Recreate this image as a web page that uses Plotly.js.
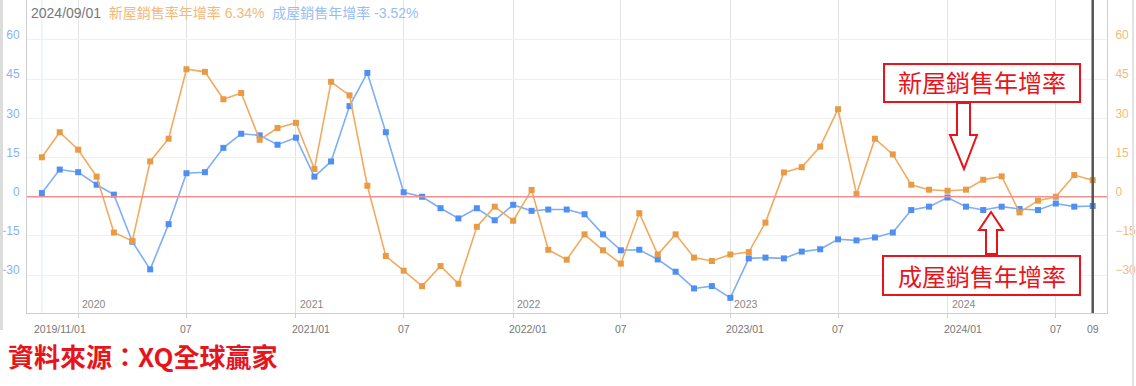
<!DOCTYPE html>
<html><head><meta charset="utf-8">
<script src="https://cdn.plot.ly/plotly-3.0.1.min.js"></script>
<style>html,body{margin:0;padding:0;background:#fff;}#chart{width:1136px;height:386px;}</style>
</head><body><div id="chart"></div>
<script>
const months = ["2019-11-01","2019-12-01",
"2020-01-01","2020-02-01","2020-03-01","2020-04-01","2020-05-01","2020-06-01","2020-07-01","2020-08-01","2020-09-01","2020-10-01","2020-11-01","2020-12-01",
"2021-01-01","2021-02-01","2021-03-01","2021-04-01","2021-05-01","2021-06-01","2021-07-01","2021-08-01","2021-09-01","2021-10-01","2021-11-01","2021-12-01",
"2022-01-01","2022-02-01","2022-03-01","2022-04-01","2022-05-01","2022-06-01","2022-07-01","2022-08-01","2022-09-01","2022-10-01","2022-11-01","2022-12-01",
"2023-01-01","2023-02-01","2023-03-01","2023-04-01","2023-05-01","2023-06-01","2023-07-01","2023-08-01","2023-09-01","2023-10-01","2023-11-01","2023-12-01",
"2024-01-01","2024-02-01","2024-03-01","2024-04-01","2024-05-01","2024-06-01","2024-07-01","2024-08-01","2024-09-01"];

const newHouse = [15.1, 24.7, 18.0, 7.7, -13.7, -16.9, 13.5, 22.2, 48.8, 47.8, 37.3, 39.7, 21.8, 26.3, 28.3, 10.6, 44.0, 38.8, 4.2, -22.7, -28.3,
 -34.2, -26.5, -33.3, -11.5, -3.8, -9.2, 2.6, -20.3, -24.1, -14.4, -20.5, -25.6, -6.3, -22.1, -14.4, -23.3, -24.6, -22.1, -21.2, -9.9,
 9.3, 11.3, 19.2, 33.5, 1.0, 22.2, 16.2, 4.6, 2.7, 2.3, 2.7, 6.5, 7.8, -6.0, -1.5, 0.0, 8.3, 6.34];

const existingHouse = [1.4, 10.4, 9.4, 4.6, 0.8, -17.2, -27.8, -10.5, 9.0, 9.4, 18.7, 24.1, 23.5, 19.9, 22.6, 7.7, 13.5, 34.7, 47.4, 24.7, 1.7,
 0.0, -4.4, -8.3, -4.4, -9.0, -3.1, -5.4, -4.9, -4.9, -6.7, -14.4, -20.5, -20.3, -24.0, -28.7, -35.1, -34.2, -38.7, -23.6, -23.3,
 -23.6, -21.0, -20.1, -16.3, -16.7, -15.6, -13.7, -5.1, -3.8, -0.3, -3.8, -5.1, -3.8, -4.7, -5.1, -2.6, -3.8, -3.52];

const gridDates = ["2020-01-01","2020-07-01","2021-01-01","2021-07-01","2022-01-01","2022-07-01","2023-01-01","2023-07-01","2024-01-01","2024-07-01"];
const tickDates = ["2019-11-01","2020-07-01","2021-01-01","2021-07-01","2022-01-01","2022-07-01","2023-01-01","2023-07-01","2024-01-01","2024-07-01","2024-09-01"];
const tickText  = ["2019/11/01","07","2021/01","07","2022/01","07","2023/01","07","2024/01","07","09"];
const yearDates = ["2020-01-01","2021-01-01","2022-01-01","2023-01-01","2024-01-01"];
const yearText  = ["2020","2021","2022","2023","2024"];
const yTicks = [-30,-15,0,15,30,45,60];

const newName = "新屋銷售率年增率";
const oldName = "成屋銷售年增率";
const boxNew = "新屋銷售年增率";
const boxOld = "成屋銷售年增率";
const sourceText = "資料來源：XQ全球贏家";

const FONT = "Liberation Sans, Arial, Noto Sans CJK TC, sans-serif";
const CJK = "Noto Sans CJK TC, sans-serif";
const RED = "#e8141c";

// plot area geometry (pixels) for decorative paper shapes
const L = 27, R = 1107, T = 0, B = 313;
const px = x => (x - L) / (R - L);
const py = y => (B - y) / (B - T);
const path = pts => "M" + pts.map(p => px(p[0]).toFixed(5) + "," + py(p[1]).toFixed(5)).join(" L") + " Z";

const traces = [
  {x: months, y: newHouse, type: "scatter", mode: "lines+markers", yaxis: "y2", name: newName,
   line: {color: "#f2aa5e", width: 1.6}, marker: {symbol: "square", size: 6, color: "#e99a45"}},
  {x: months, y: existingHouse, type: "scatter", mode: "lines+markers", yaxis: "y", name: oldName,
   line: {color: "#7eaef5", width: 1.6}, marker: {symbol: "square", size: 6, color: "#4f8ff3"}}
];

const annotations = [];
tickDates.forEach((d, i) => {
  const long = tickText[i].length > 2;
  annotations.push({x: d, xref: "x", y: 0, yref: "paper", yanchor: "top", yshift: -8,
    xanchor: long ? "left" : "center", xshift: long ? (i === 0 ? -10 : -6) : 0,
    text: tickText[i], showarrow: false, font: {family: FONT, size: 10.5, color: "#777"}});
});
yearDates.forEach((d, i) => {
  annotations.push({x: d, xref: "x", y: 0, yref: "paper", yanchor: "bottom", yshift: 1,
    xanchor: "left", xshift: 2, text: yearText[i], showarrow: false, font: {family: FONT, size: 10.5, color: "#888"}});
});
const lastNew = newHouse[newHouse.length - 1].toFixed(2);
const lastOld = existingHouse[existingHouse.length - 1].toFixed(2);
const lastDate = months[months.length - 1].replace(/-/g, "/");
annotations.push({x: 0, xref: "paper", xanchor: "left", xshift: 2, y: 1, yref: "paper", yanchor: "top", yshift: -3,
  showarrow: false, font: {family: FONT, size: 14, color: "#777"},
  text: lastDate + "  <span style='color:#f4b877'>" + newName + " " + lastNew + "%</span>  <span style='color:#98bdf6'>" + oldName + " " + lastOld + "%</span>"});
annotations.push({x: px(982), xref: "paper", y: py(82), yref: "paper", xanchor: "center", yanchor: "middle",
  showarrow: false, text: boxNew, font: {family: CJK, size: 24, color: RED}});
annotations.push({x: px(982), xref: "paper", y: py(275), yref: "paper", xanchor: "center", yanchor: "middle",
  showarrow: false, text: boxOld, font: {family: CJK, size: 24, color: RED}});
annotations.push({x: px(6), xref: "paper", y: py(355), yref: "paper", xanchor: "left", yanchor: "middle",
  showarrow: false, text: "<b>" + sourceText + "</b>", font: {family: "Noto Sans CJK TC, Liberation Sans, sans-serif", size: 26, color: RED}});

const shapes = [
  {type: "line", xref: "x", x0: months[0], x1: months[0], yref: "paper", y0: 0, y1: 1, line: {color: "#dbe9fb", width: 1}, layer: "below"},
  {type: "line", xref: "paper", x0: 0, x1: 1, yref: "y", y0: 0, y1: 0, line: {color: "#f58e8e", width: 1.6}},
  {type: "line", xref: "x", x0: months[months.length - 1], x1: months[months.length - 1], yref: "paper", y0: 0, y1: 1, line: {color: "#555", width: 2.5}},
  {type: "rect", xref: "paper", yref: "paper", x0: px(884), x1: px(1080), y0: py(64), y1: py(102), line: {color: RED, width: 2}, fillcolor: "#fff"},
  {type: "rect", xref: "paper", yref: "paper", x0: px(883), x1: px(1080), y0: py(256), y1: py(295), line: {color: RED, width: 2}, fillcolor: "#fff"},
  {type: "path", xref: "paper", yref: "paper", path: path([[957,103],[970,103],[970,135],[977,135],[964,169],[950,135],[957,135]]), line: {color: RED, width: 2}, fillcolor: "#fff"},
  {type: "path", xref: "paper", yref: "paper", path: path([[986,254],[997,254],[997,230],[1003,230],[991,212],[979,230],[986,230]]), line: {color: RED, width: 2}, fillcolor: "#fff"},
  {type: "rect", xref: "paper", yref: "paper", x0: px(0), x1: px(3), y0: py(330), y1: py(0), line: {width: 0}, fillcolor: "#dcdcdc"},
  {type: "line", xref: "paper", yref: "paper", x0: px(1133), x1: px(1133), y0: py(386), y1: py(0), line: {color: "#e2e2e2", width: 2}}
];

const layout = {
  width: 1136, height: 386,
  margin: {l: L, r: 1136 - R, t: T, b: 386 - B},
  paper_bgcolor: "#fff", plot_bgcolor: "#fff",
  showlegend: false,
  font: {family: FONT},
  xaxis: {type: "date", range: ["2019-10-07", "2024-09-25"], tickvals: gridDates, showticklabels: false,
    ticks: "outside", ticklen: 4, tickcolor: "#d0d0d0", showgrid: true, gridcolor: "#e3e3e3", gridwidth: 1,
    showline: true, linecolor: "#cfcfcf", linewidth: 1, zeroline: false, fixedrange: true},
  yaxis: {range: [-44.5, 75.3], tickvals: yTicks, showgrid: true, gridcolor: "#f0f0f0", zeroline: false,
    showline: true, linecolor: "#cfcfcf", linewidth: 1, ticks: "", ticklabelstandoff: 4, ticklabelshift: -5,
    tickfont: {family: FONT, size: 12, color: "#8ab2f2"}},
  yaxis2: {range: [-44.5, 75.3], tickvals: yTicks, overlaying: "y", side: "right", showgrid: false, zeroline: false,
    showline: true, linecolor: "#cfcfcf", linewidth: 1, ticks: "", ticklabelstandoff: 5, ticklabelshift: -5,
    tickfont: {family: FONT, size: 12, color: "#f2bb7a"}},
  annotations: annotations,
  shapes: shapes
};

Plotly.newPlot("chart", traces, layout, {displayModeBar: false, staticPlot: true});
</script>
</body></html>
